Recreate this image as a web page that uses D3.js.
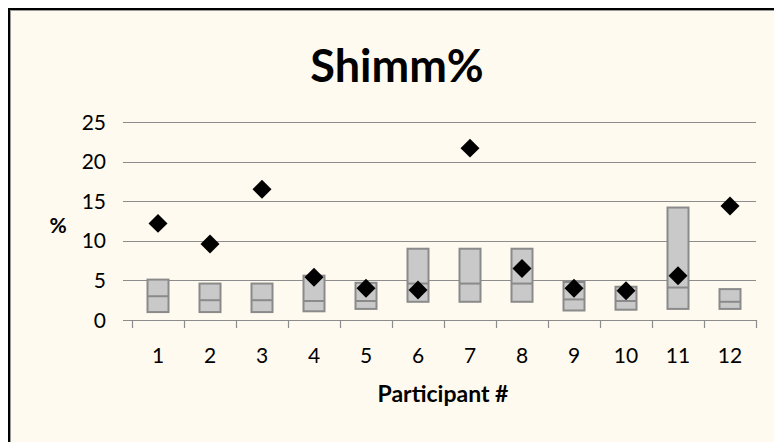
<!DOCTYPE html>
<html>
<head>
<meta charset="utf-8">
<script src="https://cdn.jsdelivr.net/npm/d3@7"></script>
<style>
  body { margin: 0; background: #fff; }
  text { font-family: Lato, "Open Sans", sans-serif; fill: #000; }
</style>
</head>
<body>
<svg id="visu" width="774" height="442"></svg>
<script>
var participants = ["1", "2", "3", "4", "5", "6", "7", "8", "9", "10", "11", "12"];
var boxLow    = [1.0, 1.0, 1.0, 1.1, 1.4, 2.3, 2.3, 2.3, 1.2, 1.3, 1.4, 1.4];
var boxMedian = [3.0, 2.5, 2.5, 2.4, 2.4, 4.6, 4.6, 4.6, 2.6, 2.4, 4.1, 2.3];
var boxHigh   = [5.1, 4.6, 4.6, 5.6, 4.7, 9.0, 9.0, 9.0, 4.8, 4.2, 14.2, 3.9];
var shimmer   = [12.2, 9.6, 16.5, 5.4, 4.0, 3.8, 21.7, 6.5, 4.0, 3.7, 5.6, 14.4];
var yTicks = [0, 5, 10, 15, 20, 25];

var vis = d3.select("#visu"),
    WIDTH = 774,
    HEIGHT = 442,
    MARGINS = { top: 122, right: 18, bottom: 122, left: 132 },
    PLOT_RIGHT = 756,
    PLOT_BOTTOM = 320;

var rows = participants.map(function(p, i) {
  return { p: p, low: boxLow[i], med: boxMedian[i], high: boxHigh[i], val: shimmer[i] };
});

var xScale = d3.scaleBand()
  .domain(participants)
  .range([MARGINS.left, PLOT_RIGHT]);

var yScale = d3.scaleLinear()
  .domain([0, 25])
  .range([PLOT_BOTTOM, MARGINS.top]);

// frame
vis.append("rect")
  .attr("x", 9).attr("y", 9)
  .attr("width", WIDTH + 20).attr("height", HEIGHT + 20)
  .attr("fill", "#fffaef")
  .attr("stroke", "#000")
  .attr("stroke-width", 2);
vis.append("rect")
  .attr("x", 10.5).attr("y", 10.5)
  .attr("width", WIDTH + 20).attr("height", HEIGHT + 20)
  .attr("fill", "none")
  .attr("stroke", "#999")
  .attr("stroke-width", 1);

// gridlines + y ticks
vis.append("g")
  .selectAll("line")
  .data(yTicks)
  .enter().append("line")
  .attr("x1", MARGINS.left - 9)
  .attr("x2", PLOT_RIGHT)
  .attr("y1", function(d) { return Math.round(yScale(d)) + 0.5; })
  .attr("y2", function(d) { return Math.round(yScale(d)) + 0.5; })
  .attr("stroke", "#8c8c8c")
  .attr("stroke-width", 1.2);

vis.append("g")
  .selectAll("text")
  .data(yTicks)
  .enter().append("text")
  .attr("x", 106)
  .attr("y", function(d) { return yScale(d); })
  .attr("dy", "0.36em")
  .attr("text-anchor", "end")
  .attr("font-size", 21)
  .text(function(d) { return d; });

// x axis
var xAxis = d3.axisBottom(xScale).tickSize(0).tickPadding(0);
var xg = vis.append("g")
  .attr("transform", "translate(0," + PLOT_BOTTOM + ")")
  .call(xAxis);
xg.select(".domain").remove();
xg.selectAll("text")
  .attr("y", 43)
  .attr("dy", 0)
  .attr("font-size", 21)
  .attr("font-family", "Lato, sans-serif");

var bounds = [MARGINS.left].concat(participants.map(function(p) { return xScale(p) + xScale.bandwidth(); }));
vis.append("g")
  .selectAll("line")
  .data(bounds)
  .enter().append("line")
  .attr("x1", function(d) { return Math.round(d) + 0.5; })
  .attr("x2", function(d) { return Math.round(d) + 0.5; })
  .attr("y1", PLOT_BOTTOM)
  .attr("y2", PLOT_BOTTOM + 8)
  .attr("stroke", "#8c8c8c")
  .attr("stroke-width", 1.2);

// boxes
var bw = 21;
var boxes = vis.append("g").selectAll("g")
  .data(rows)
  .enter().append("g");

boxes.append("rect")
  .attr("x", function(d) { return xScale(d.p) + xScale.bandwidth() / 2 - bw / 2; })
  .attr("y", function(d) { return yScale(d.high); })
  .attr("width", bw)
  .attr("height", function(d) { return yScale(d.low) - yScale(d.high); })
  .attr("fill", "#c9c9c9")
  .attr("stroke", "#8a8a8a")
  .attr("stroke-width", 2);

boxes.append("line")
  .attr("x1", function(d) { return xScale(d.p) + xScale.bandwidth() / 2 - bw / 2; })
  .attr("x2", function(d) { return xScale(d.p) + xScale.bandwidth() / 2 + bw / 2; })
  .attr("y1", function(d) { return yScale(d.med); })
  .attr("y2", function(d) { return yScale(d.med); })
  .attr("stroke", "#8a8a8a")
  .attr("stroke-width", 2);

// diamonds
vis.append("g")
  .selectAll("path")
  .data(rows)
  .enter().append("path")
  .attr("d", d3.symbol().type(d3.symbolSquare).size(180))
  .attr("transform", function(d) {
    return "translate(" + (xScale(d.p) + xScale.bandwidth() / 2) + "," + yScale(d.val) + ") rotate(45)";
  })
  .attr("fill", "#000");

// titles
vis.append("text")
  .attr("x", 397)
  .attr("y", 82)
  .attr("text-anchor", "middle")
  .attr("font-size", 45)
  .attr("font-weight", "bold")
  .text("Shimm%");

vis.append("text")
  .attr("x", 58)
  .attr("y", 225)
  .attr("dy", "0.36em")
  .attr("text-anchor", "middle")
  .attr("font-size", 21)
  .attr("font-weight", "bold")
  .text("%");

vis.append("text")
  .attr("x", 443)
  .attr("y", 402)
  .attr("text-anchor", "middle")
  .attr("font-size", 23)
  .attr("font-weight", "bold")
  .text("Participant #");
</script>
</body>
</html>
